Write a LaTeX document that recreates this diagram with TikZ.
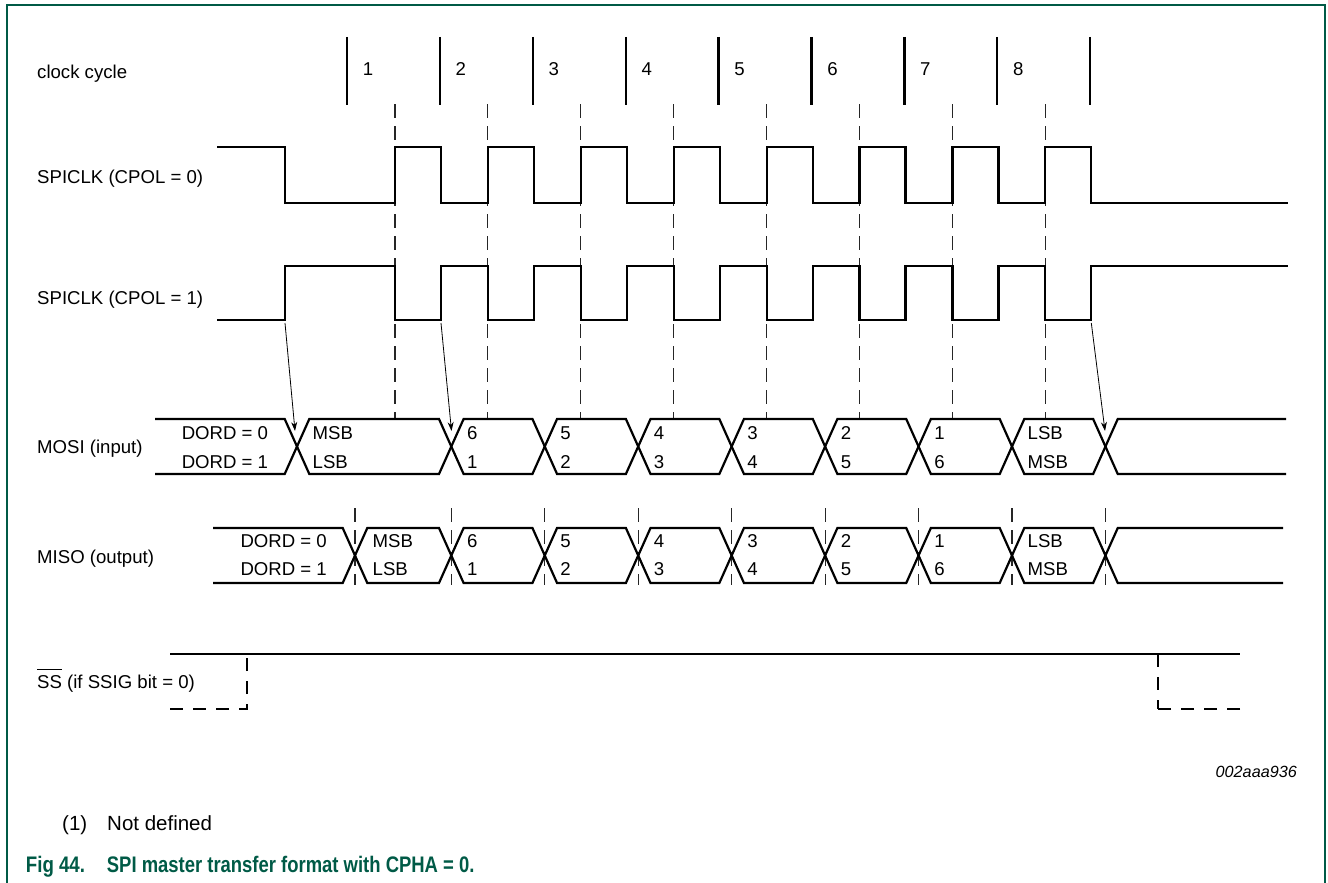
\documentclass[tikz,border=0pt]{standalone}
\usepackage{fontspec}
\usepackage{graphicx}
\setmainfont{Liberation Sans}
\usetikzlibrary{arrows.meta}
\definecolor{nxpgreen}{RGB}{0,90,70}
\begin{document}
\begin{tikzpicture}[x=1pt,y=-1pt,
  wave/.style={line width=2.2pt, line join=miter, line cap=butt},
  clocktick/.style={line width=2.3pt},
  guide/.style={line width=1.1pt, dash pattern=on 14pt off 8pt, black!85},
  ssdash/.style={line width=2.2pt, dash pattern=on 13pt off 10pt},
  lbl/.style={anchor=base west, inner sep=0pt, font=\fontsize{18.6}{22}\selectfont},
  num/.style={anchor=base, inner sep=0pt, font=\fontsize{18.6}{22}\selectfont},
  ptr/.style={line width=0.8pt, -{Stealth[length=9pt,width=6pt]}},
  frameline/.style={nxpgreen, line width=1.6pt}]

\useasboundingbox (0,0) rectangle (1328,883);
\draw[frameline] (7,883) -- (7,5) -- (1325,5) -- (1325,883);

% row labels
\node[lbl] (lclk) at (37,78) {clock cycle};
\node[lbl] (lspi0) at (37,183) {SPICLK (CPOL = 0)};
\node[lbl] (lspi1) at (37,304) {SPICLK (CPOL = 1)};
\node[lbl] (lmosi) at (37,453) {MOSI (input)};
\node[lbl] (lmiso) at (37,563) {MISO (output)};
\node[lbl] (lss) at (37,688) {\setbox0=\hbox{SS}\rlap{\rule[17.6pt]{\wd0}{1.3pt}}\box0{} (if SSIG bit = 0)};

% clock cycle ticks and numbers
\foreach \k in {0,...,8} {
  \draw[clocktick] ({347+92.9*\k},37) -- ({347+92.9*\k},105);
}
\foreach \k in {1,...,8} {
  \node[num] (n\k) at ({347+92.9*(\k-1)+21},76) {\k};
}

% dashed guides (rising edges)
\foreach \k in {0,...,7} {
  \draw[guide] ({395+92.9*\k},104) -- ({395+92.9*\k},419);
}

% SPICLK CPOL=0
\draw[wave] (217,147) -- (285,147) -- (285,203)
  \foreach \k in {0,...,7} { -- ({395+92.9*\k},203) -- ({395+92.9*\k},147) -- ({441+92.9*\k},147) -- ({441+92.9*\k},203) }
  -- (1288,203);
% SPICLK CPOL=1
\draw[wave] (217,320) -- (285,320) -- (285,266)
  \foreach \k in {0,...,7} { -- ({395+92.9*\k},266) -- ({395+92.9*\k},320) -- ({441+92.9*\k},320) -- ({441+92.9*\k},266) }
  -- (1288,266);

% arrows from SPICLK (CPOL=1) edges to MOSI transitions
\coordinate (a1s) at (285,323);
\coordinate (a1e) at (295,431);
\coordinate (a2s) at (441,323);
\coordinate (a2e) at (451.5,431);
\coordinate (a3s) at (1091.3,323);
\coordinate (a3e) at (1105,431);
\draw[ptr] (a1s) -- (a1e);
\draw[ptr] (a2s) -- (a2e);
\draw[ptr] (a3s) -- (a3e);

% MOSI bus
\draw[wave] (155,419) -- (284.7,419) -- (297,446.5) -- (284.7,474) -- (155,474);
\draw[wave] (297,446.5) -- (309.3,419) -- (439,419) -- (451.3,446.5) -- (439,474) -- (309.3,474) -- cycle;
\foreach \k in {0,...,6} {
  \pgfmathsetmacro\ca{451.3+93.45*\k}
  \pgfmathsetmacro\cb{\ca+93.45}
  \draw[wave] (\ca,446.5) -- ({\ca+12.3},419) -- ({\cb-12.3},419) -- (\cb,446.5) -- ({\cb-12.3},474) -- ({\ca+12.3},474) -- cycle;
}
\draw[wave] (1286,419) -- (1117.75,419) -- (1105.45,446.5) -- (1117.75,474) -- (1286,474);

\node[lbl] (mod0) at (181.6,439) {DORD = 0};
\node[lbl] (mod1) at (181.6,468) {DORD = 1};
\foreach \c/\t/\b [count=\i] in {297/MSB/LSB, 451.3/6/1, 544.75/5/2, 638.2/4/3, 731.65/3/4, 825.1/2/5, 918.55/1/6, 1012/LSB/MSB} {
  \node[lbl] (mot\i) at ({\c+15.5},439) {\t};
  \node[lbl] (mob\i) at ({\c+15.5},468) {\b};
}

% MISO dashed guides
\foreach \c in {355, 451.3, 544.75, 638.2, 731.65, 825.1, 918.55, 1012, 1105.45} {
  \draw[guide] (\c,508) -- (\c,585);
}

% MISO bus
\draw[wave] (213,528) -- (342.7,528) -- (355,555.5) -- (342.7,583) -- (213,583);
\draw[wave] (355,555.5) -- (367.3,528) -- (439,528) -- (451.3,555.5) -- (439,583) -- (367.3,583) -- cycle;
\foreach \k in {0,...,6} {
  \pgfmathsetmacro\ca{451.3+93.45*\k}
  \pgfmathsetmacro\cb{\ca+93.45}
  \draw[wave] (\ca,555.5) -- ({\ca+12.3},528) -- ({\cb-12.3},528) -- (\cb,555.5) -- ({\cb-12.3},583) -- ({\ca+12.3},583) -- cycle;
}
\draw[wave] (1283,528) -- (1117.75,528) -- (1105.45,555.5) -- (1117.75,583) -- (1283,583);

\node[lbl] (mid0) at (240.3,547) {DORD = 0};
\node[lbl] (mid1) at (240.3,575) {DORD = 1};
\foreach \c/\t/\b [count=\i] in {357/MSB/LSB, 451.3/6/1, 544.75/5/2, 638.2/4/3, 731.65/3/4, 825.1/2/5, 918.55/1/6, 1012/LSB/MSB} {
  \node[lbl] (mit\i) at ({\c+15.5},547) {\t};
  \node[lbl] (mib\i) at ({\c+15.5},575) {\b};
}

% SS
\draw[wave] (170,654) -- (1240,654);
\draw[ssdash] (170,709) -- (247,709) -- (247,654);
\draw[ssdash] (1158,654) -- (1158,709);
\draw[ssdash] (1240,709) -- (1158,709);

% figure id
\node[anchor=base east, inner sep=0pt, font=\fontsize{16.2}{19}\selectfont\itshape] (fid) at (1297,777) {002aaa936};

% note and caption
\node[anchor=base west, inner sep=0pt, font=\fontsize{20.5}{24}\selectfont] (note1) at (62,830) {(1)};
\node[anchor=base west, inner sep=0pt, font=\fontsize{20.5}{24}\selectfont] (note2) at (107,830) {Not defined};
\node[anchor=base west, inner sep=0pt, text=nxpgreen, font=\fontsize{22.5}{26}\selectfont\bfseries] (cap1) at (25.7,872) {\scalebox{0.83}[1]{Fig 44.}};
\node[anchor=base west, inner sep=0pt, text=nxpgreen, font=\fontsize{22.5}{26}\selectfont\bfseries] (cap2) at (106.7,872) {\scalebox{0.82}[1]{SPI master transfer format with CPHA = 0.}};
\end{tikzpicture}
\end{document}
